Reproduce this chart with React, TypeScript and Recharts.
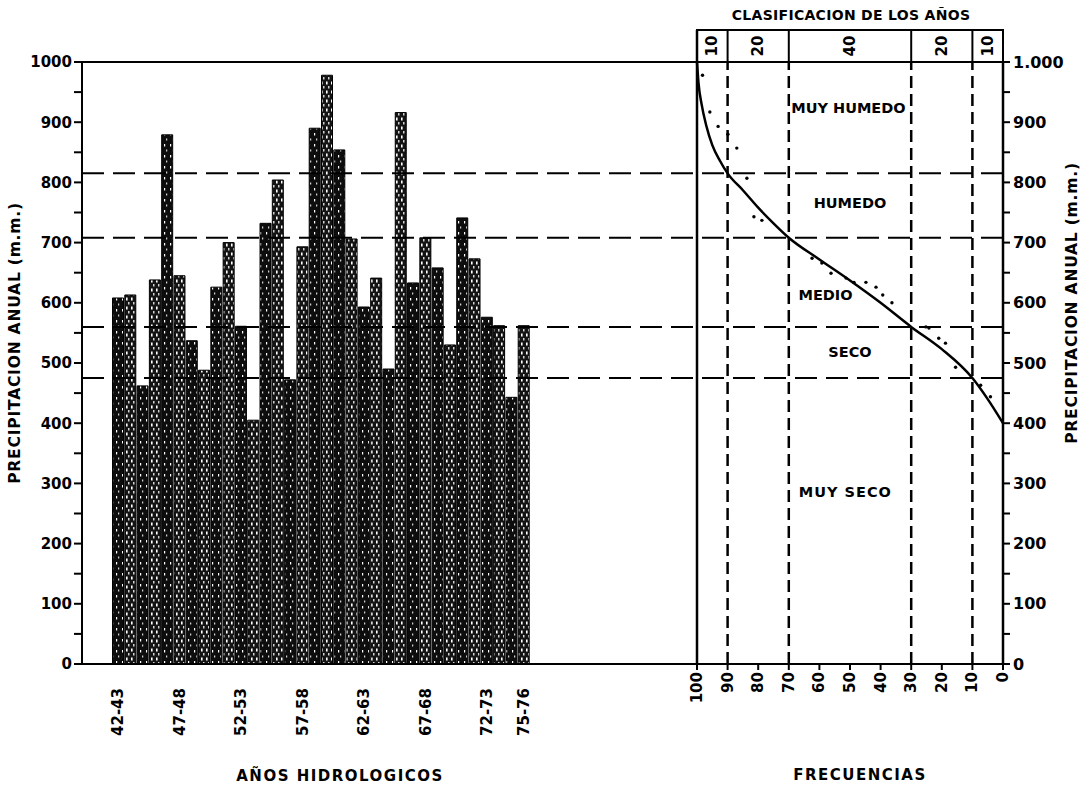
import {
  Bar,
  BarChart,
  Cell,
  ComposedChart,
  Label,
  Line,
  ReferenceArea,
  ReferenceDot,
  ReferenceLine,
  Scatter,
  XAxis,
  YAxis,
} from "recharts"

// Años hidrológicos y precipitación anual (mm)
const years = [
  "42-43", "43-44", "44-45", "45-46", "46-47", "47-48", "48-49", "49-50", "50-51", "51-52",
  "52-53", "53-54", "54-55", "55-56", "56-57", "57-58", "58-59", "59-60", "60-61", "61-62",
  "62-63", "63-64", "64-65", "65-66", "66-67", "67-68", "68-69", "69-70", "70-71", "71-72",
  "72-73", "73-74", "74-75", "75-76",
]
const rainfall = [
  608, 613, 462, 638, 879, 645, 537, 488, 626, 700,
  561, 405, 732, 804, 472, 693, 890, 978, 854, 706,
  593, 641, 490, 916, 633, 708, 658, 530, 741, 673,
  576, 562, 443, 562,
]
const yearTicks = ["42-43", "47-48", "52-53", "57-58", "62-63", "67-68", "72-73", "75-76"]

const mmTicks = [0, 50, 100, 150, 200, 250, 300, 350, 400, 450, 500, 550, 600, 650, 700, 750, 800, 850, 900, 950, 1000]
const freqTicks = [0, 10, 20, 30, 40, 50, 60, 70, 80, 90, 100]

// limites de clasificacion
const classLimits = [815, 708, 560, 475]
const freqLimits = [90, 70, 30, 10]
const headerEdges = [100, 90, 70, 30, 10, 0]
const headerPercents = ["10", "20", "40", "20", "10"]
const classNames = ["MUY HUMEDO", "HUMEDO", "MEDIO", "SECO", "MUY SECO"]
const classLabelFreq = [50.5, 50, 58, 50, 51.5]
const classLabelMm = [923, 766, 613, 518, 286]

// curva de frecuencias
const curveFreq = [100, 99.5, 98.5, 97, 95, 92.5, 90, 85, 80, 75, 70, 60, 50, 40, 30, 20, 10, 5, 0]
const curveMm = [1000, 965, 930, 895, 862, 836, 815, 787, 758, 732, 708, 672, 637, 600, 560, 523, 475, 440, 400]

// puntos observados
const dotFreq = [98.2, 95.8, 93.1, 89.9, 87, 83.7, 81.4, 78.8, 62.4, 59.2, 56.2, 51.3, 48.7, 44.8, 41.5, 39.3, 36.3, 25.2, 24.2, 21, 18.8, 15.5, 7.3, 4.1]
const dotMm = [978, 917, 893, 880, 857, 807, 743, 737, 674, 666, 649, 641, 634, 634, 626, 613, 600, 560, 558, 541, 533, 493, 463, 444]

const barData = years.map((year, i) => ({ year, mm: rainfall[i] }))
const curveData = curveFreq.map((freq, i) => ({ freq, mm: curveMm[i] }))
const dotData = dotFreq.map((freq, i) => ({ freq, mm: dotMm[i] }))

const FONT = "DejaVu Sans"
const HEADER_TOP = 1053

function VTick(props: any) {
  const { x, y, payload, fontSize } = props
  return (
    <text
      x={x}
      y={y}
      transform={`rotate(-90 ${x} ${y})`}
      textAnchor="end"
      dominantBaseline="central"
      fontSize={fontSize}
      fontWeight="bold"
      fontFamily={FONT}
      fill="#000"
    >
      {payload.value}
    </text>
  )
}

const boldText = (
  value: string,
  x: number,
  y: number,
  size: number,
  rotate = false,
  spacing = 0
) => (
  <text
    x={x}
    y={y}
    transform={rotate ? `rotate(-90 ${x} ${y})` : undefined}
    textAnchor="middle"
    dominantBaseline="central"
    fontSize={size}
    fontWeight="bold"
    letterSpacing={spacing}
    fontFamily={FONT}
    fill="#000"
  >
    {value}
  </text>
)

export default function App() {
  return (
    <div
      style={{
        position: "absolute",
        left: 0,
        top: 0,
        width: 1089,
        height: 794,
        background: "#fff",
        fontFamily: FONT,
      }}
    >
      <div style={{ position: "absolute", left: 0, top: 0 }}>
        <BarChart
          width={700}
          height={794}
          data={barData}
          margin={{ top: 62, right: 3, left: 0, bottom: 10 }}
          barCategoryGap={0.5}
        >
          <defs>
            <pattern id="stippleA" patternUnits="userSpaceOnUse" width={6} height={11}>
              <rect width={6} height={11} fill="#0d0d0d" />
              <rect x={2} y={1} width={1.2} height={2.5} fill="#fff" />
              <rect x={4.2} y={6.5} width={1} height={2} fill="#fff" />
            </pattern>
            <pattern id="stippleB" patternUnits="userSpaceOnUse" width={5} height={9}>
              <rect width={5} height={9} fill="#141414" />
              <rect x={1} y={0.5} width={1.6} height={3} fill="#fff" />
              <rect x={3.2} y={5} width={1.2} height={2.5} fill="#fff" />
            </pattern>
          </defs>
          <XAxis
            dataKey="year"
            ticks={yearTicks}
            interval={0}
            padding={{ left: 30, right: 167 }}
            height={120}
            tickLine={false}
            tickSize={6}
            tickMargin={18}
            axisLine={{ stroke: "#000", strokeWidth: 2 }}
            tick={(p: any) => <VTick {...p} fontSize={15} />}
          >
            <Label
              content={(p: any) =>
                boldText("AÑOS  HIDROLOGICOS", p.viewBox.x + 258, p.viewBox.y + 112, 15, false, 1.5)
              }
            />
          </XAxis>
          <YAxis
            type="number"
            domain={[0, 1000]}
            ticks={mmTicks}
            interval={0}
            width={82}
            tickSize={8}
            tickMargin={2}
            tickFormatter={(v: number) => (v % 100 === 0 ? String(v) : "")}
            tick={{ fill: "#000", fontSize: 15, fontWeight: "bold", fontFamily: FONT }}
            tickLine={{ stroke: "#000", strokeWidth: 2 }}
            axisLine={{ stroke: "#000", strokeWidth: 2 }}
          >
            <Label
              content={(p: any) =>
                boldText(
                  "PRECIPITACION  ANUAL (m.m.)",
                  p.viewBox.x + 15,
                  p.viewBox.y + p.viewBox.height / 2 - 20,
                  15.5,
                  true,
                  0.8
                )
              }
            />
          </YAxis>
          <ReferenceLine y={1000} stroke="#000" strokeWidth={2} />
          {classLimits.map((v) => (
            <ReferenceLine key={v} y={v} stroke="#000" strokeWidth={2} strokeDasharray="22 9" />
          ))}
          <Bar dataKey="mm" isAnimationActive={false} stroke="#000" strokeWidth={1}>
            {barData.map((d, i) => (
              <Cell key={d.year} fill={i % 2 ? "url(#stippleB)" : "url(#stippleA)"} />
            ))}
          </Bar>
        </BarChart>
      </div>

      <div style={{ position: "absolute", left: 0, top: 0 }}>
        <ComposedChart width={1089} height={794} margin={{ top: 62, right: 0, left: 697, bottom: 10 }}>
          <XAxis
            type="number"
            dataKey="freq"
            domain={[0, 100]}
            reversed
            ticks={freqTicks}
            interval={0}
            height={120}
            tickSize={6}
            tickMargin={2}
            tickLine={{ stroke: "#000", strokeWidth: 2 }}
            axisLine={{ stroke: "#000", strokeWidth: 2 }}
            tick={(p: any) => <VTick {...p} fontSize={15} />}
          >
            <Label
              content={(p: any) => boldText("FRECUENCIAS", p.viewBox.x + 163, p.viewBox.y + 111, 15, false, 1.5)}
            />
          </XAxis>
          <YAxis
            orientation="right"
            type="number"
            dataKey="mm"
            domain={[0, 1000]}
            ticks={mmTicks}
            interval={0}
            width={86}
            tickSize={7}
            tickMargin={3}
            tickFormatter={(v: number) => (v === 1000 ? "1.000" : v % 100 === 0 ? String(v) : "")}
            tick={{ fill: "#000", fontSize: 16, fontWeight: "bold", fontFamily: FONT }}
            tickLine={{ stroke: "#000", strokeWidth: 2 }}
            axisLine={{ stroke: "#000", strokeWidth: 2.5 }}
          >
            <Label
              content={(p: any) =>
                boldText(
                  "PRECIPITACION  ANUAL (m.m.)",
                  p.viewBox.x + 69,
                  p.viewBox.y + p.viewBox.height / 2 - 60,
                  15.5,
                  true,
                  0.8
                )
              }
            />
          </YAxis>

          {/* cabecera de clasificacion */}
          <ReferenceArea
            x1={100}
            x2={0}
            y1={1000}
            y2={HEADER_TOP}
            ifOverflow="visible"
            fill="none"
            stroke="#000"
            strokeWidth={2}
            label={(p: any) =>
              boldText("CLASIFICACION DE LOS AÑOS", p.viewBox.x + p.viewBox.width / 2 + 1, p.viewBox.y - 15, 14, false, 0.3)
            }
          />
          {headerPercents.map((pct, i) => (
            <ReferenceArea
              key={`h${i}`}
              x1={headerEdges[i]}
              x2={headerEdges[i + 1]}
              y1={1000}
              y2={HEADER_TOP}
              ifOverflow="visible"
              fill="none"
              stroke="none"
              label={(p: any) =>
                boldText(pct, p.viewBox.x + p.viewBox.width / 2, p.viewBox.y + p.viewBox.height / 2, 15, true)
              }
            />
          ))}
          {freqLimits.map((f) => (
            <ReferenceLine
              key={`hd${f}`}
              segment={[
                { x: f, y: 1000 },
                { x: f, y: HEADER_TOP },
              ]}
              ifOverflow="visible"
              stroke="#000"
              strokeWidth={2}
            />
          ))}
          <ReferenceLine
            segment={[
              { x: 100, y: 0 },
              { x: 100, y: HEADER_TOP },
            ]}
            ifOverflow="visible"
            stroke="#000"
            strokeWidth={2.5}
          />

          {freqLimits.map((f) => (
            <ReferenceLine key={`v${f}`} x={f} stroke="#000" strokeWidth={2.5} strokeDasharray="12 6" />
          ))}
          {classLimits.map((v) => (
            <ReferenceLine key={`c${v}`} y={v} stroke="#000" strokeWidth={2} strokeDasharray="22 9" />
          ))}

          {classNames.map((name, i) => (
            <ReferenceDot
              key={name}
              x={classLabelFreq[i]}
              y={classLabelMm[i]}
              r={0.5}
              fill="none"
              stroke="none"
              label={(p: any) =>
                boldText(
                  name,
                  p.viewBox.x + p.viewBox.width / 2,
                  p.viewBox.y + p.viewBox.height / 2,
                  14.5,
                  false,
                  name === "MUY SECO" ? 1 : 0
                )
              }
            />
          ))}

          <Line
            data={curveData}
            dataKey="mm"
            type="monotone"
            stroke="#000"
            strokeWidth={2.5}
            dot={false}
            isAnimationActive={false}
          />
          <Scatter
            data={dotData}
            dataKey="mm"
            fill="#000"
            isAnimationActive={false}
            shape={(p: any) => <circle cx={p.cx} cy={p.cy} r={1.7} fill="#000" />}
          />
        </ComposedChart>
      </div>
    </div>
  )
}
